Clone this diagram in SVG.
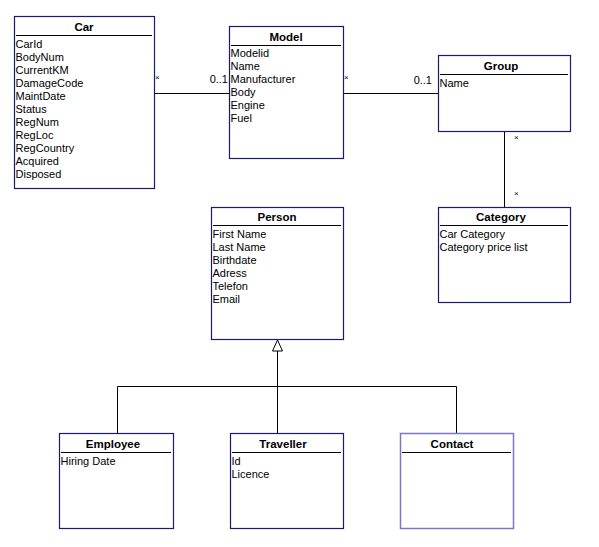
<svg xmlns="http://www.w3.org/2000/svg" width="599" height="547" viewBox="0 0 599 547">
<style>
.box{fill:#fff;stroke:#1a1a6e;stroke-width:1.2}
.box2{fill:#fff;stroke:#7878c4;stroke-width:1.5}
.sep{stroke:#000;stroke-width:1}
.t{font-family:"Liberation Sans",Arial,sans-serif;font-size:11.5px;font-weight:bold;text-anchor:middle;fill:#000}
.a{font-family:"Liberation Sans",Arial,sans-serif;font-size:11px;fill:#000}
.m{font-family:"Liberation Sans",Arial,sans-serif;font-size:8px;fill:#000}
.c{stroke:#000;stroke-width:1;fill:none}
</style>
<rect width="599" height="547" fill="#fff"/>
<g id="connectors">
<line class="c" x1="154" y1="93.5" x2="229" y2="93.5"/>
<text class="m" x="155" y="80">×</text>
<text class="a" x="228" y="83" text-anchor="end">0..1</text>
<line class="c" x1="343" y1="93.5" x2="438" y2="93.5"/>
<text class="m" x="344" y="80">×</text>
<text class="a" x="432" y="84" text-anchor="end">0..1</text>
<line class="c" x1="504.5" y1="131" x2="504.5" y2="207"/>
<text class="m" x="514" y="140">×</text>
<text class="m" x="514" y="196">×</text>
<polygon points="277.5,340 272.5,351 282.5,351" fill="#fff" stroke="#000" stroke-width="1"/>
<line class="c" x1="277.5" y1="351" x2="277.5" y2="433"/>
<polyline class="c" points="117.5,433 117.5,386.5 456.5,386.5 456.5,433"/>
</g>
<g id="car">
<rect class="box" x="14.5" y="16.5" width="140" height="172"/>
<line class="sep" x1="16" y1="35.5" x2="152" y2="35.5"/>
<text class="t" x="84" y="31">Car</text>
<text class="a" x="15.5" y="48">CarId</text>
<text class="a" x="15.5" y="61">BodyNum</text>
<text class="a" x="15.5" y="74">CurrentKM</text>
<text class="a" x="15.5" y="87">DamageCode</text>
<text class="a" x="15.5" y="100">MaintDate</text>
<text class="a" x="15.5" y="113">Status</text>
<text class="a" x="15.5" y="126">RegNum</text>
<text class="a" x="15.5" y="139">RegLoc</text>
<text class="a" x="15.5" y="152">RegCountry</text>
<text class="a" x="15.5" y="165">Acquired</text>
<text class="a" x="15.5" y="178">Disposed</text>
</g>
<g id="model">
<rect class="box" x="229.5" y="26.5" width="114" height="132"/>
<line class="sep" x1="231" y1="45.5" x2="341" y2="45.5"/>
<text class="t" x="286" y="41">Model</text>
<text class="a" x="230.5" y="57">Modelid</text>
<text class="a" x="230.5" y="70">Name</text>
<text class="a" x="230.5" y="83">Manufacturer</text>
<text class="a" x="230.5" y="96">Body</text>
<text class="a" x="230.5" y="109">Engine</text>
<text class="a" x="230.5" y="122">Fuel</text>
</g>
<g id="group">
<rect class="box" x="438.5" y="55.5" width="132" height="76"/>
<line class="sep" x1="440" y1="74.5" x2="568" y2="74.5"/>
<text class="t" x="501" y="70">Group</text>
<text class="a" x="439.5" y="87">Name</text>
</g>
<g id="category">
<rect class="box" x="438.5" y="207.5" width="132" height="95"/>
<line class="sep" x1="440" y1="225.5" x2="568" y2="225.5"/>
<text class="t" x="501" y="221">Category</text>
<text class="a" x="439.5" y="238">Car Category</text>
<text class="a" x="439.5" y="251">Category price list</text>
</g>
<g id="person">
<rect class="box" x="211.5" y="207.5" width="132" height="132"/>
<line class="sep" x1="213" y1="225.5" x2="341" y2="225.5"/>
<text class="t" x="277" y="221">Person</text>
<text class="a" x="212.5" y="238">First Name</text>
<text class="a" x="212.5" y="251">Last Name</text>
<text class="a" x="212.5" y="264">Birthdate</text>
<text class="a" x="212.5" y="277">Adress</text>
<text class="a" x="212.5" y="290">Telefon</text>
<text class="a" x="212.5" y="303">Email</text>
</g>
<g id="employee">
<rect class="box" x="59.5" y="433.5" width="114" height="95"/>
<line class="sep" x1="61" y1="452.5" x2="171" y2="452.5"/>
<text class="t" x="113" y="448">Employee</text>
<text class="a" x="60.5" y="465">Hiring Date</text>
</g>
<g id="traveller">
<rect class="box" x="230.5" y="433.5" width="113" height="95"/>
<line class="sep" x1="232" y1="452.5" x2="341" y2="452.5"/>
<text class="t" x="283" y="448">Traveller</text>
<text class="a" x="231.5" y="465">Id</text>
<text class="a" x="231.5" y="478">Licence</text>
</g>
<g id="contact">
<rect class="box2" x="400.5" y="433.5" width="113" height="95"/>
<line class="sep" x1="402" y1="452.5" x2="511" y2="452.5"/>
<text class="t" x="452" y="448">Contact</text>
</g>
</svg>
